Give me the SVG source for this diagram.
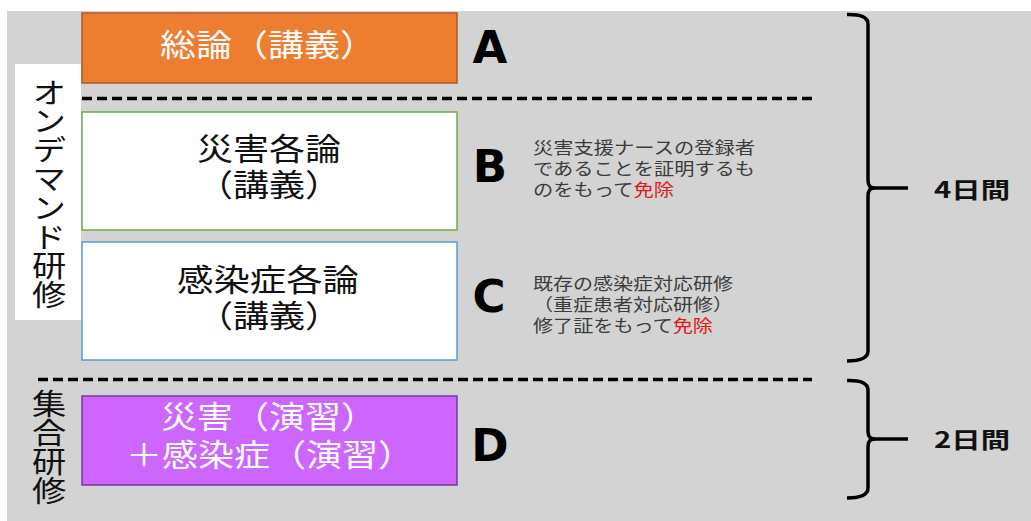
<svg xmlns="http://www.w3.org/2000/svg" width="1031" height="521" viewBox="0 0 1031 521">
<style>
.jp{font-family:"Noto Sans CJK JP","Noto Sans",sans-serif}
.jl{font-family:"Liberation Sans","Noto Sans CJK JP",sans-serif}
.big{font-size:31px}
.lbl{font-size:29px;fill:#111;writing-mode:vertical-rl;text-orientation:upright}
.note{font-size:17px;fill:#3c3c3c}
.red{fill:#e01818}
.let{font-family:"DejaVu Sans",Verdana,sans-serif;font-weight:bold;font-size:45px;fill:#000;text-anchor:middle}
.days{font-size:22px;font-weight:bold;fill:#111}
.dash{stroke:#000;stroke-width:3.5;stroke-dasharray:10 5;fill:none}
.brace{stroke:#000;stroke-width:3.5;fill:none;stroke-linejoin:round}
</style>
<rect x="0" y="0" width="1031" height="521" fill="#ffffff"/>
<rect x="7" y="11" width="1024" height="510" fill="#d3d3d3"/>

<g id="label-ondemand">
<rect x="15" y="64" width="66" height="256" fill="#ffffff"/>
<g transform="translate(49,0) scale(1.18,1)" class="jp">
<text class="lbl" x="0" y="78">オンデマンド研修</text>
</g>
</g>

<g id="label-group">
<g transform="translate(49,0) scale(1.18,1)" class="jp">
<text class="lbl" x="0" y="390">集合研修</text>
</g>
</g>

<g id="node-A">
<rect x="82" y="13" width="375" height="70" fill="#ed7d31" stroke="#ae5a21" stroke-width="1.5"/>
<text class="jl big" x="160" y="56" fill="#ffffff" textLength="216" lengthAdjust="spacingAndGlyphs">総論（講義）</text>
<text class="let" x="490" y="63">A</text>
</g>

<g id="node-B">
<rect x="82" y="112" width="375" height="118" fill="#ffffff" stroke="#70ad47" stroke-width="1.5"/>
<text class="jl big" x="197" y="160" fill="#111" textLength="144" lengthAdjust="spacingAndGlyphs">災害各論</text>
<text class="jl big" x="197" y="196" fill="#111" textLength="144" lengthAdjust="spacingAndGlyphs">（講義）</text>
<text class="let" x="490" y="182">B</text>
<text class="jl note" x="533" y="154" textLength="222" lengthAdjust="spacingAndGlyphs">災害支援ナースの登録者</text>
<text class="jl note" x="533" y="175" textLength="222" lengthAdjust="spacingAndGlyphs">であることを証明するも</text>
<text class="jl note" x="533" y="196" textLength="141" lengthAdjust="spacingAndGlyphs">のをもって<tspan class="red">免除</tspan></text>
</g>

<g id="node-C">
<rect x="82" y="242" width="375" height="118" fill="#ffffff" stroke="#5b9bd5" stroke-width="1.5"/>
<text class="jl big" x="177" y="291" fill="#111" textLength="182" lengthAdjust="spacingAndGlyphs">感染症各論</text>
<text class="jl big" x="197" y="327" fill="#111" textLength="144" lengthAdjust="spacingAndGlyphs">（講義）</text>
<text class="let" x="489" y="312">C</text>
<text class="jl note" x="533" y="290" textLength="200" lengthAdjust="spacingAndGlyphs">既存の感染症対応研修</text>
<text class="jl note" x="533" y="311" textLength="200" lengthAdjust="spacingAndGlyphs">（重症患者対応研修）</text>
<text class="jl note" x="533" y="332" textLength="180" lengthAdjust="spacingAndGlyphs">修了証をもって<tspan class="red">免除</tspan></text>
</g>

<g id="node-D">
<rect x="82" y="396" width="375" height="89" fill="#cc66ff" stroke="#7a35a8" stroke-width="1.5"/>
<text class="jl big" x="161" y="428" fill="#ffffff" textLength="216" lengthAdjust="spacingAndGlyphs">災害（演習）</text>
<text class="jl big" x="126" y="466" fill="#ffffff" textLength="288" lengthAdjust="spacingAndGlyphs">＋感染症（演習）</text>
<text class="let" x="490" y="461">D</text>
</g>

<g id="connectors">
<line class="dash" x1="82" y1="98.5" x2="812" y2="98.5"/>
<line class="dash" x1="38" y1="379.5" x2="812" y2="379.5"/>
</g>

<g id="brace-4days">
<path class="brace" d="M847,14.5 Q868,14 868,24 V180 Q868,188 874,188 Q868,188 868,196 V351 Q868,361 847,361"/>
<line class="brace" x1="872" y1="188" x2="908" y2="188"/>
<text class="jp days" x="934" y="198" textLength="76" lengthAdjust="spacingAndGlyphs">4日間</text>
</g>

<g id="brace-2days">
<path class="brace" d="M847,380.5 Q868,380 868,390 V431 Q868,439 874,439 Q868,439 868,447 V488 Q868,498 847,498"/>
<line class="brace" x1="872" y1="439" x2="908" y2="439"/>
<text class="jp days" x="934" y="448" textLength="76" lengthAdjust="spacingAndGlyphs">2日間</text>
</g>
</svg>
